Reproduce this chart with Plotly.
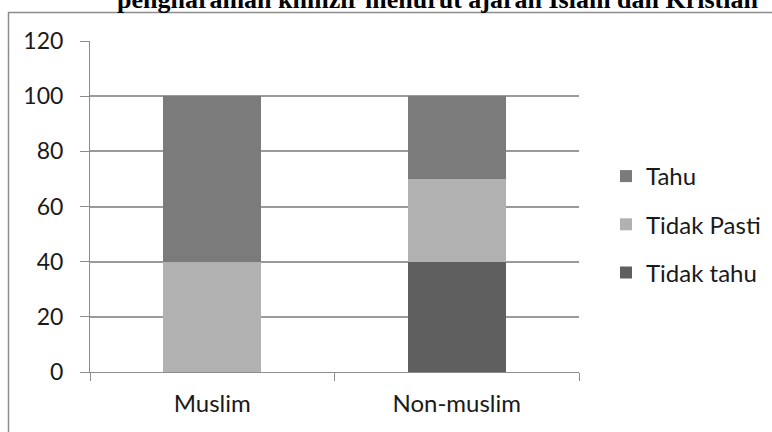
import plotly.graph_objects as go

categories = ["Muslim", "Non-muslim"]
tidak_tahu = [0, 40]
tidak_pasti = [40, 30]
tahu = [60, 30]
series_names = ["Tidak tahu", "Tidak Pasti", "Tahu"]
series_colors = ["#5f5f5f", "#b1b1b1", "#7b7b7b"]
legend_ranks = [3, 2, 1]
y_ticks = [0, 20, 40, 60, 80, 100, 120]
title_text = "pengharaman khinzir menurut ajaran Islam dan Kristian"

W, H = 772, 432
ML, MR, MT, MB = 90, 193, 41, 60
PW, PH = W - ML - MR, H - MT - MB

def px_x(p):
    return (p - ML) / PW

def px_y(p):
    return (H - MB - p) / PH

FONT = "Lato"

fig = go.Figure()
for name, vals, col, rk in zip(series_names, [tidak_tahu, tidak_pasti, tahu], series_colors, legend_ranks):
    fig.add_trace(go.Bar(
        x=categories, y=vals, name=name, marker_color=col,
        marker_line_width=0, legendgroup=name, legendrank=rk,
    ))

fig.update_layout(
    width=W, height=H,
    margin=dict(l=ML, r=MR, t=MT, b=MB, autoexpand=False),
    barmode="stack", bargap=0.6,
    paper_bgcolor="white", plot_bgcolor="white",
    font=dict(family=FONT, size=23, color="#1a1a1a"),
    showlegend=True,
    legend=dict(
        x=px_x(606), y=px_y(154), xanchor="left", yanchor="top",
        traceorder="grouped", tracegroupgap=14,
        font=dict(family=FONT, size=24, color="#1a1a1a"),
        itemwidth=30, bgcolor="rgba(0,0,0,0)",
    ),
    xaxis=dict(
        showline=True, linecolor="#8c8c8c", linewidth=1,
        ticks="outside", tickson="boundaries", ticklen=8, tickcolor="#8c8c8c",
        ticklabelstandoff=10, showgrid=False,
        tickfont=dict(size=24),
    ),
    yaxis=dict(
        range=[0, 120], tickvals=y_ticks, showline=True, linecolor="#8c8c8c",
        linewidth=1, ticks="outside", ticklen=9, tickcolor="#8c8c8c",
        showgrid=True, gridcolor="#9a9a9a", gridwidth=1.5, zeroline=False,
        ticklabelstandoff=12,
    ),
)

# chart frame (top and left edges visible)
fig.add_shape(type="line", xref="paper", yref="paper",
              x0=px_x(8), x1=px_x(W + 5), y0=px_y(12.5), y1=px_y(12.5),
              line=dict(color="#8c8c8c", width=1.5))
fig.add_shape(type="line", xref="paper", yref="paper",
              x0=px_x(8.5), x1=px_x(8.5), y0=px_y(12.5), y1=px_y(H + 5),
              line=dict(color="#8c8c8c", width=1.5))

# title, partially cut off at the top of the image
fig.add_annotation(
    text="<b>" + title_text + "</b>", xref="paper", yref="paper",
    x=px_x(437), y=px_y(16), xanchor="center", yanchor="bottom",
    showarrow=False, font=dict(family="Liberation Serif", size=26, color="black"),
)

fig.write_html("out.html", post_script="document.body.style.margin='0';",
               config={"displayModeBar": False})
